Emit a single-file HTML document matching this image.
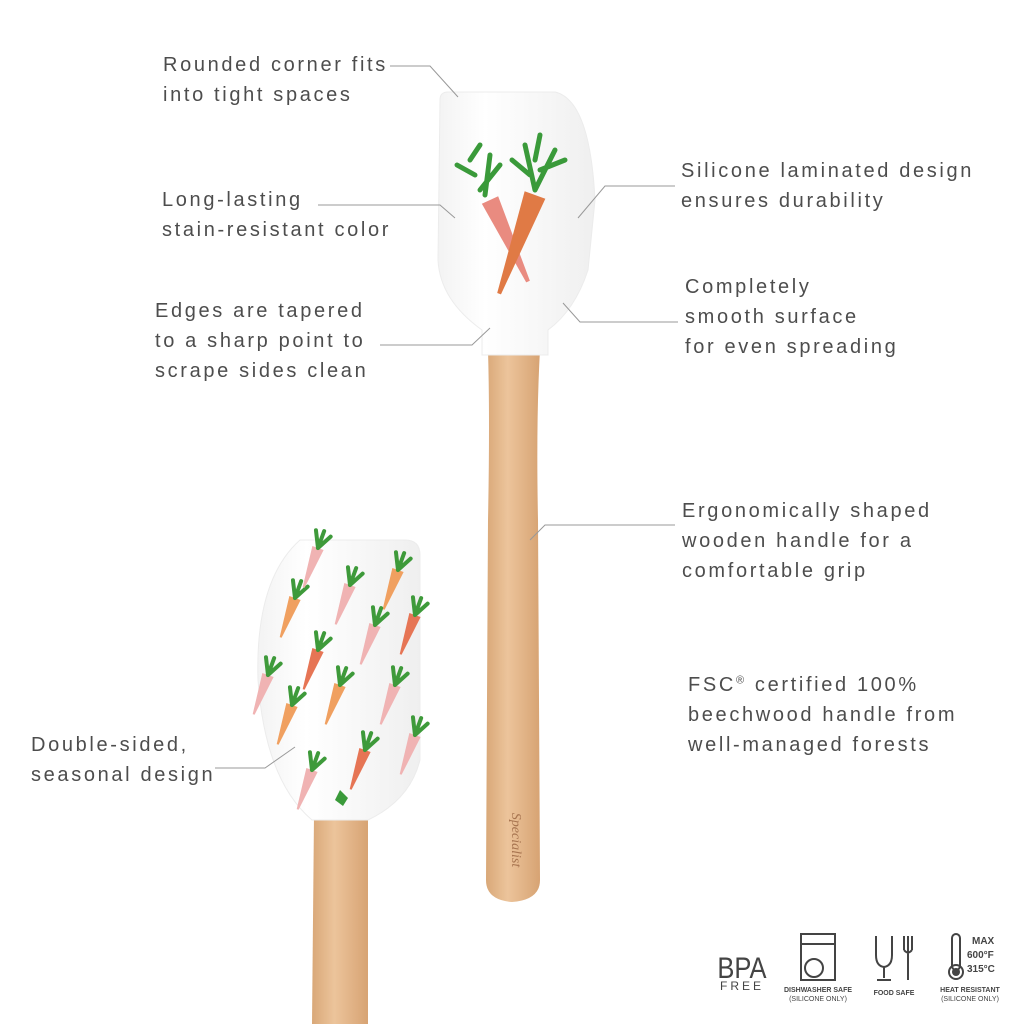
<!DOCTYPE html>
<html><head><meta charset="utf-8"><style>
body{margin:0;width:1024px;height:1024px;background:#fff;position:relative;overflow:hidden;font-family:"Liberation Sans",sans-serif;}
.t{position:absolute;color:#4d4d4d;font-size:20px;line-height:30px;letter-spacing:2.65px;white-space:nowrap;}
svg{position:absolute;left:0;top:0}
</style></head><body>
<svg width="1024" height="1024" viewBox="0 0 1024 1024">
<defs>
<linearGradient id="wood" x1="0" x2="1"><stop offset="0" stop-color="#d9a878"/><stop offset="0.4" stop-color="#ecc49b"/><stop offset="1" stop-color="#d7a373"/></linearGradient>
<linearGradient id="head" x1="0" x2="1"><stop offset="0" stop-color="#f3f3f3"/><stop offset="0.3" stop-color="#fff"/><stop offset="1" stop-color="#efefef"/></linearGradient>
<g id="car"><path d="M-6,0 L6,0 L1,42 L-1,42Z" fill="currentColor"/><path d="M0,0 l-8,-16 M0,0 l0,-18 M0,0 l8,-15" stroke="#3e9a3a" stroke-width="4" stroke-linecap="round"/></g>
</defs>
<path d="M488,350 L540,350 Q536,420 538,520 L540,880 Q540,900 512,902 Q486,900 486,880 L488,520 Q490,420 488,350Z" fill="url(#wood)"/>
<text x="512" y="840" font-family="Liberation Serif" font-style="italic" font-size="14" fill="#a87550" transform="rotate(90 512 840)" text-anchor="middle">Specialist</text>
<path d="M440,100 Q440,92 448,92 L555,92 Q590,100 595,200 L588,270 Q575,310 548,330 L548,355 L482,355 L482,330 Q440,300 438,260Z" fill="url(#head)" stroke="#ececec"/>
<g transform="translate(490,200) rotate(-25)"><path d="M-9,0 L9,0 L2,90 L-2,90Z" fill="#e98b80"/></g>
<path d="M470,160 l10,-15 M475,175 l-18,-10 M480,190 l20,-25 M485,195 l5,-40" stroke="#3a9a3a" stroke-width="5" stroke-linecap="round"/>
<g transform="translate(535,195) rotate(20)"><path d="M-11,0 L11,0 L2,105 L-2,105Z" fill="#e07a45"/></g>
<path d="M535,190 l-10,-45 M535,190 l20,-40 M530,175 l-18,-15 M540,170 l25,-10 M535,160 l5,-25" stroke="#3a9a3a" stroke-width="5" stroke-linecap="round"/>
<path d="M314,815 L368,815 L368,1024 L312,1024Z" fill="url(#wood)"/>
<path d="M300,540 L405,540 Q420,540 420,555 L420,760 Q410,800 368,820 L312,820 Q265,780 258,680 Q255,580 300,540Z" fill="url(#head)" stroke="#ececec"/>
<g color="#f0a060">
<use href="#car" transform="translate(398,570) rotate(20)"/>
<use href="#car" transform="translate(295,598) rotate(20)"/>
<use href="#car" transform="translate(340,685) rotate(20)"/>
<use href="#car" transform="translate(292,705) rotate(20)"/>
</g>
<g color="#e67555">
<use href="#car" transform="translate(318,650) rotate(20)"/>
<use href="#car" transform="translate(365,750) rotate(20)"/>
<use href="#car" transform="translate(415,615) rotate(20)"/>
</g>
<g color="#f0b3b3">
<use href="#car" transform="translate(318,548) rotate(20)"/>
<use href="#car" transform="translate(350,585) rotate(20)"/>
<use href="#car" transform="translate(375,625) rotate(20)"/>
<use href="#car" transform="translate(268,675) rotate(20)"/>
<use href="#car" transform="translate(395,685) rotate(20)"/>
<use href="#car" transform="translate(312,770) rotate(20)"/>
<use href="#car" transform="translate(415,735) rotate(20)"/>
</g>
<path d="M335,800 l5,-10 l8,8 l-5,8z" fill="#3a9a3a"/>
<g stroke="#999" stroke-width="1" fill="none">
<path d="M390,66 L430,66 L458,97"/>
<path d="M318,205 L440,205 L455,218"/>
<path d="M380,345 L472,345 L490,328"/>
<path d="M675,186 L605,186 L578,218"/>
<path d="M678,322 L580,322 L563,303"/>
<path d="M675,525 L545,525 L530,540"/>
<path d="M215,768 L265,768 L295,747"/>
</g>
<g fill="none" stroke="#444" stroke-width="2">
<rect x="801" y="934" width="34" height="46"/><line x1="801" y1="944" x2="835" y2="944"/><circle cx="814" cy="968" r="9"/>
<path d="M876,936 L876,955 Q876,966 884,967 Q892,966 892,955 L892,936 M884,967 L884,978 M877,980 L891,980"/>
<path d="M904,936 L904,950 M908,936 L908,980 M912,936 L912,950 M904,950 Q908,955 912,950"/>
<rect x="952" y="934" width="8" height="36" rx="4"/><circle cx="956" cy="972" r="7"/>
</g>
<circle cx="956" cy="972" r="4" fill="#444"/>
<text x="718" y="978" font-size="30" fill="#444" font-family="Liberation Sans" transform="scale(0.85,1) translate(126,0)">BPA</text>
<text x="720" y="990" font-size="12" fill="#444" letter-spacing="3">FREE</text>
<text x="818" y="992" font-size="7" fill="#444" text-anchor="middle" font-weight="bold">DISHWASHER SAFE</text>
<text x="818" y="1001" font-size="7" fill="#444" text-anchor="middle">(SILICONE ONLY)</text>
<text x="894" y="995" font-size="7" fill="#444" text-anchor="middle" font-weight="bold">FOOD SAFE</text>
<text x="970" y="992" font-size="7" fill="#444" text-anchor="middle" font-weight="bold">HEAT RESISTANT</text>
<text x="970" y="1001" font-size="7" fill="#444" text-anchor="middle">(SILICONE ONLY)</text>
<text x="972" y="944" font-size="10" fill="#444" font-weight="bold">MAX</text>
<text x="967" y="958" font-size="10" fill="#444" font-weight="bold">600°F</text>
<text x="967" y="972" font-size="10" fill="#444" font-weight="bold">315°C</text>
</svg>
<div class="t" style="left:163px;top:50px">Rounded corner fits<br>into tight spaces</div>
<div class="t" style="left:162px;top:185px">Long-lasting<br>stain-resistant color</div>
<div class="t" style="left:155px;top:296px">Edges are tapered<br>to a sharp point to<br>scrape sides clean</div>
<div class="t" style="left:681px;top:156px">Silicone laminated design<br>ensures durability</div>
<div class="t" style="left:685px;top:272px">Completely<br>smooth surface<br>for even spreading</div>
<div class="t" style="left:682px;top:496px">Ergonomically shaped<br>wooden handle for a<br>comfortable grip</div>
<div class="t" style="left:688px;top:670px">FSC<sup style="font-size:11px;line-height:0">®</sup> certified 100%<br>beechwood handle from<br>well-managed forests</div>
<div class="t" style="left:31px;top:730px">Double-sided,<br>seasonal design</div>
</body></html>
